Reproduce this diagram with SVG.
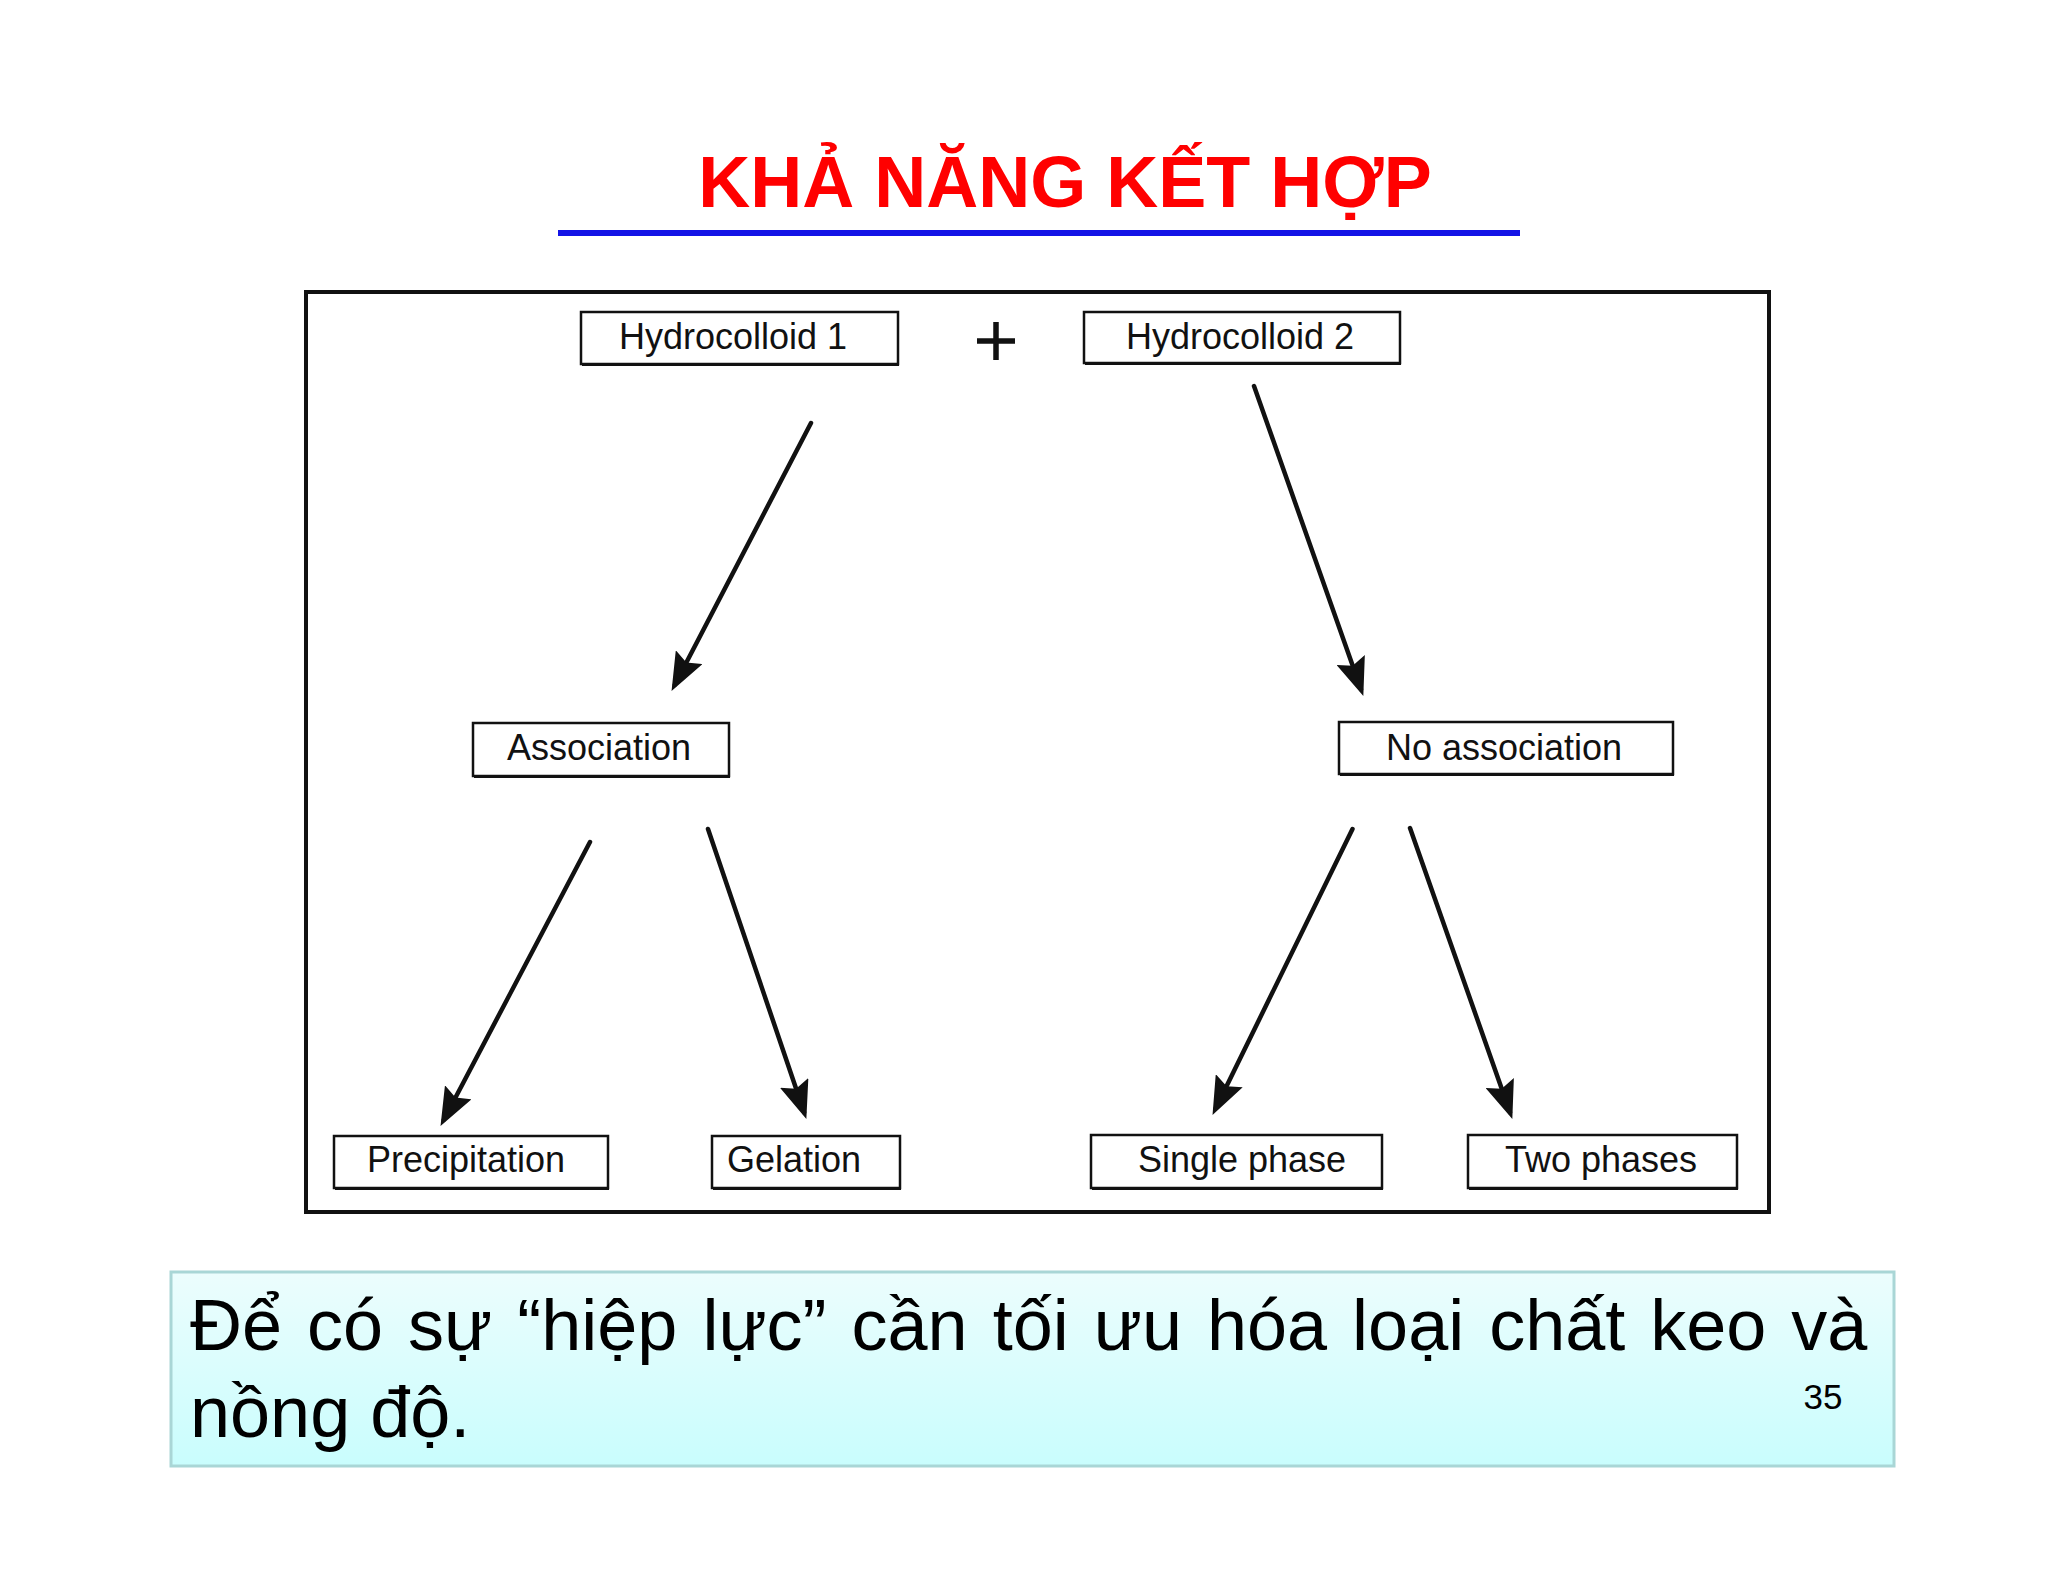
<svg xmlns="http://www.w3.org/2000/svg" width="2048" height="1582" viewBox="0 0 2048 1582">
<defs>
<style>
.node rect{fill:#fff;stroke:#111;stroke-width:2.5}
.node polyline{fill:none;stroke:#111;stroke-width:2}
.lbl{font-family:"Liberation Sans",Arial,sans-serif;font-size:36px;fill:#111;text-anchor:middle}
.conn line{stroke:#111;stroke-width:4.5;stroke-linecap:round}
</style>
<marker id="ah" viewBox="0 0 38 30" refX="31" refY="15" markerWidth="38" markerHeight="30" markerUnits="userSpaceOnUse" orient="auto">
<path d="M0,0 L38,15 L0,30 L6,15 Z" fill="#111"/>
</marker>
<linearGradient id="bg" x1="0" y1="0" x2="0" y2="1">
<stop offset="0" stop-color="#ecfdfd"/>
<stop offset="1" stop-color="#c9fdfd"/>
</linearGradient>
</defs>
<rect width="2048" height="1582" fill="#fff"/>
<text x="1065" y="207" font-family="Liberation Sans,Arial,sans-serif" font-size="72" font-weight="bold" fill="#ff0000" text-anchor="middle">KHẢ NĂNG KẾT HỢP</text>
<line x1="558" y1="233" x2="1520" y2="233" stroke="#1414e6" stroke-width="6"/>
<rect x="306" y="292" width="1463" height="920" fill="none" stroke="#111" stroke-width="4"/>
<g id="plus"><path d="M977,341 H1015 M996,322 V360" stroke="#111" stroke-width="5.5" fill="none"/></g>
<g class="conn" id="connectors">
<line x1="811" y1="423" x2="674.8" y2="684.7" marker-end="url(#ah)"/>
<line x1="1254" y1="386" x2="1361" y2="689.3" marker-end="url(#ah)"/>
<line x1="590" y1="842" x2="443.8" y2="1119.7" marker-end="url(#ah)"/>
<line x1="708" y1="829" x2="804.1" y2="1112.3" marker-end="url(#ah)"/>
<line x1="1352.5" y1="829" x2="1215.6" y2="1108.6" marker-end="url(#ah)"/>
<line x1="1410" y1="828" x2="1510" y2="1112.3" marker-end="url(#ah)"/>
</g>
<g class="node" id="hydrocolloid1"><rect x="581" y="312" width="317" height="52"/><polyline points="898,313 898,365 582,365"/><text class="lbl" x="733" y="349">Hydrocolloid 1</text></g>
<g class="node" id="hydrocolloid2"><rect x="1084" y="312" width="316" height="51"/><polyline points="1400,313 1400,364 1085,364"/><text class="lbl" x="1240" y="349">Hydrocolloid 2</text></g>
<g class="node" id="association"><rect x="473" y="723" width="256" height="53"/><polyline points="729,724 729,777 474,777"/><text class="lbl" x="599" y="760">Association</text></g>
<g class="node" id="no-association"><rect x="1339" y="722" width="334" height="52"/><polyline points="1673,723 1673,775 1340,775"/><text class="lbl" x="1504" y="760">No association</text></g>
<g class="node" id="precipitation"><rect x="334" y="1136" width="274" height="52"/><polyline points="608,1137 608,1189 335,1189"/><text class="lbl" x="466" y="1172">Precipitation</text></g>
<g class="node" id="gelation"><rect x="712" y="1136" width="188" height="52"/><polyline points="900,1137 900,1189 713,1189"/><text class="lbl" x="794" y="1172">Gelation</text></g>
<g class="node" id="single-phase"><rect x="1091" y="1135" width="291" height="53"/><polyline points="1382,1136 1382,1189 1092,1189"/><text class="lbl" x="1242" y="1172">Single phase</text></g>
<g class="node" id="two-phases"><rect x="1468" y="1135" width="269" height="53"/><polyline points="1737,1136 1737,1189 1469,1189"/><text class="lbl" x="1601" y="1172">Two phases</text></g>
<g id="note">
<rect x="171" y="1272" width="1723" height="194" fill="url(#bg)" stroke="#a9d6d6" stroke-width="3"/>
<text x="190" y="1350" font-family="Liberation Sans,Arial,sans-serif" font-size="72" fill="#000" word-spacing="5">Để có sự “hiệp lực” cần tối ưu hóa loại chất keo và</text>
<text x="190" y="1437" font-family="Liberation Sans,Arial,sans-serif" font-size="72" fill="#000">nồng độ.</text>
<text x="1823" y="1409" font-family="Liberation Sans,Arial,sans-serif" font-size="35" fill="#000" text-anchor="middle">35</text>
</g>
</svg>
